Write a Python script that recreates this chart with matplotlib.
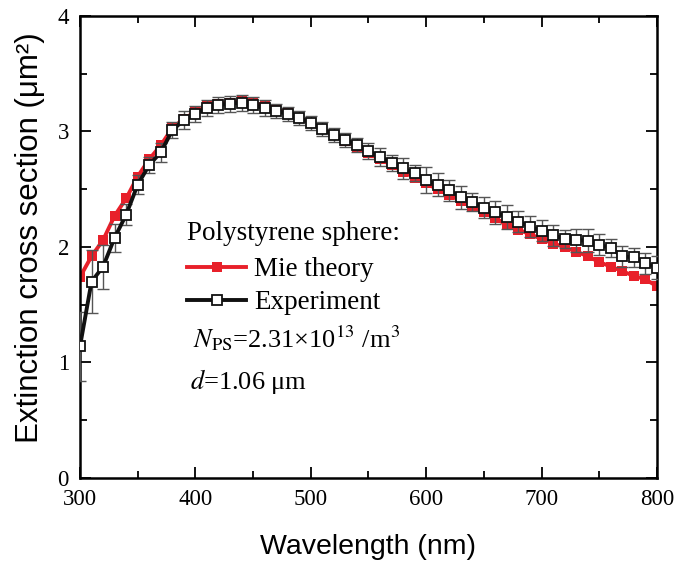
import numpy as np
import matplotlib
matplotlib.use("Agg")
import matplotlib.pyplot as plt
from matplotlib.ticker import MultipleLocator

wavelength = np.arange(300, 801, 10)

mie_theory = np.array([1.74, 1.92, 2.06, 2.27, 2.42, 2.61, 2.76, 2.88, 3.03, 3.11,
                       3.17, 3.22, 3.24, 3.25, 3.26, 3.25, 3.22, 3.19, 3.16, 3.12,
                       3.07, 3.02, 2.97, 2.92, 2.87, 2.81, 2.76, 2.71, 2.65, 2.60,
                       2.55, 2.50, 2.45, 2.40, 2.35, 2.30, 2.25, 2.19, 2.15, 2.11,
                       2.07, 2.03, 2.00, 1.96, 1.92, 1.87, 1.83, 1.79, 1.75, 1.72,
                       1.66])

experiment = np.array([1.14, 1.70, 1.83, 2.08, 2.28, 2.54, 2.71, 2.82, 3.01, 3.10,
                       3.155, 3.20, 3.23, 3.24, 3.25, 3.23, 3.20, 3.18, 3.15, 3.12,
                       3.07, 3.02, 2.97, 2.93, 2.88, 2.83, 2.78, 2.73, 2.68, 2.64,
                       2.58, 2.54, 2.49, 2.43, 2.39, 2.34, 2.30, 2.26, 2.22, 2.175,
                       2.14, 2.10, 2.07, 2.06, 2.055, 2.02, 1.99, 1.92, 1.91, 1.86,
                       1.82])

exp_error = np.array([0.30, 0.27, 0.19, 0.12, 0.09, 0.08, 0.07, 0.08, 0.07, 0.08,
                      0.07, 0.07, 0.07, 0.07, 0.07, 0.07, 0.07, 0.06, 0.06, 0.06,
                      0.06, 0.06, 0.06, 0.06, 0.06, 0.07, 0.08, 0.07, 0.09, 0.07,
                      0.11, 0.10, 0.09, 0.10, 0.08, 0.09, 0.10, 0.10, 0.09, 0.09,
                      0.09, 0.09, 0.08, 0.10, 0.10, 0.09, 0.08, 0.09, 0.08, 0.09,
                      0.10])

serif = "Liberation Serif"
sans = "Liberation Sans"

fig = plt.figure(figsize=(6.74, 5.65), dpi=100)
ax = fig.add_axes([0.1187, 0.154, 0.856, 0.8177])

mie_line, = ax.plot(wavelength, mie_theory, color="#e8202a", lw=2.8,
                    marker="s", markersize=7, markeredgewidth=0, zorder=2)
ax.errorbar(wavelength, experiment, yerr=exp_error, fmt="none",
            ecolor="#555555", elinewidth=1.0, capsize=4.5, capthick=1.0, zorder=3)
exp_line, = ax.plot(wavelength, experiment, color="#111111", lw=2.8,
                    marker="s", markersize=7, markerfacecolor="white",
                    markeredgecolor="#111111", markeredgewidth=1.3, zorder=4)

ax.set_xlim(300, 800)
ax.set_ylim(0, 4)
ax.xaxis.set_major_locator(MultipleLocator(100))
ax.xaxis.set_minor_locator(MultipleLocator(50))
ax.yaxis.set_major_locator(MultipleLocator(1))
ax.yaxis.set_minor_locator(MultipleLocator(0.5))
ax.tick_params(which="both", direction="in", top=True, right=True, width=1.3)
ax.tick_params(which="major", length=8, labelsize=16.5)
ax.tick_params(axis="x", which="major", pad=8)
ax.tick_params(axis="y", which="major", pad=8)
ax.tick_params(which="minor", length=5)
for lab in ax.get_xticklabels() + ax.get_yticklabels():
    lab.set_fontfamily(serif)
for sp in ax.spines.values():
    sp.set_linewidth(1.8)

ax.set_xlabel("Wavelength (nm)", fontfamily=sans, fontsize=20.5, labelpad=17)
ax.set_ylabel("Extinction cross section (μm²)", fontfamily=sans, fontsize=22.5)
ax.yaxis.set_label_coords(-0.061, 0.52)

leg = ax.legend([mie_line, exp_line], ["Mie theory", "Experiment"],
                title="Polystyrene sphere:", alignment="left",
                loc="upper left", bbox_to_anchor=(0.185, 0.556),
                frameon=False, numpoints=1, handlelength=2.2, handletextpad=0.3,
                borderpad=0, borderaxespad=0, labelspacing=0.3,
                prop={"family": serif, "size": 19.5})
leg.get_title().set_fontfamily(serif)
leg.get_title().set_fontsize(19.5)
leg._legend_box.sep = 8

ax.text(0.195, 0.303, r"$N_{\mathrm{PS}}$=2.31×10$^{13}$ /m$^{3}$",
        transform=ax.transAxes, fontfamily=serif, fontsize=19,
        math_fontfamily="stix", va="center")
ax.text(0.19, 0.208, r"$d$=1.06 μm", transform=ax.transAxes,
        fontfamily=serif, fontsize=19, math_fontfamily="stix", va="center")

fig.savefig("out.png", dpi=100)
